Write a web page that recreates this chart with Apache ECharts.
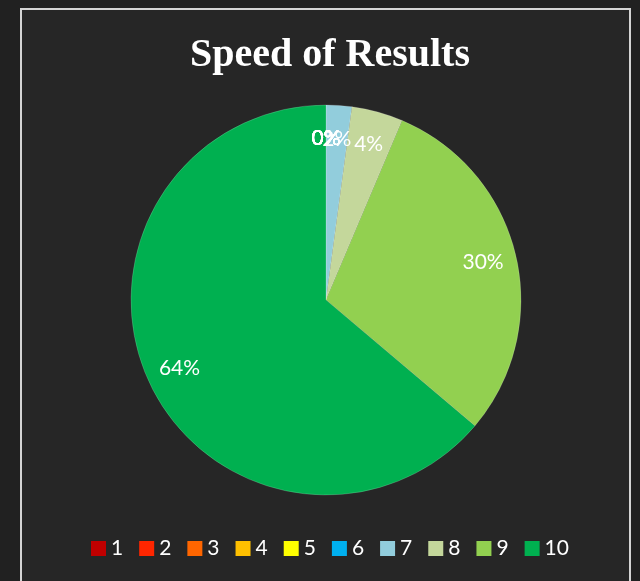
<!DOCTYPE html>
<html>
<head>
<meta charset="utf-8">
<script src="https://cdn.jsdelivr.net/npm/echarts@6/dist/echarts.min.js"></script>
<style>
  html, body { margin: 0; padding: 0; background: #212121; }
  #frame {
    position: absolute; left: 20px; top: 8px;
    width: 607px; height: 600px;
    border: 2px solid #d4d4d4; background: #262626;
  }
  #chart { width: 607px; height: 600px; }
</style>
</head>
<body>
<div id="frame"><div id="chart"></div></div>
<script>
// ratings 1..10 and how many responses fell in each
const categories = ["1", "2", "3", "4", "5", "6", "7", "8", "9", "10"];
const counts = [0, 0, 0, 0, 0, 0, 1, 2, 14, 30];
const colors = ["#C00000", "#FF2600", "#FF6600", "#FFC000", "#FFFF00",
                "#00B0F0", "#92CDDC", "#C4D79B", "#92D050", "#00B050"];

const total = counts.reduce((a, b) => a + b, 0);
const pct = i => Math.round(counts[i] / total * 100) + "%";

const pieData = categories.map((c, i) => ({
  name: c, value: counts[i], itemStyle: { color: colors[i] }
}));

const chart = echarts.init(document.getElementById("chart"));
chart.setOption({
  backgroundColor: "transparent",
  animation: false,
  title: {
    text: "Speed of Results",
    left: 303, top: 21, textAlign: "center",
    textStyle: {
      color: "#ffffff", fontFamily: "Liberation Serif",
      fontWeight: "bold", fontSize: 40
    }
  },
  legend: {
    data: categories,
    top: 528, left: 69, padding: 0,
    itemWidth: 15, itemHeight: 15, itemGap: 16,
    icon: "rect",
    itemStyle: { borderWidth: 0 },
    textStyle: { color: "#ffffff", fontFamily: "Lato", fontSize: 21 }
  },
  series: [
    {
      type: "pie",
      center: [304, 290],
      radius: 195,
      startAngle: 90,
      data: pieData,
      label: { show: false },
      labelLine: { show: false },
      itemStyle: { borderColor: "rgba(255,255,255,0.35)", borderWidth: 0.5 }
    },
    {
      // label ring, only carries the percentage text
      type: "pie",
      center: [304, 290],
      radius: [122, 195],
      startAngle: 90,
      silent: true,
      legendHoverLink: false,
      avoidLabelOverlap: false,
      minShowLabelAngle: 0,
      data: categories.map((c, i) => ({ name: c, value: counts[i] })),
      itemStyle: { color: "transparent", borderWidth: 0 },
      label: {
        show: true, position: "inside",
        color: "#ffffff", fontFamily: "Lato", fontSize: 21,
        formatter: p => pct(p.dataIndex)
      },
      labelLayout: { hideOverlap: false },
      labelLine: { show: false }
    }
  ]
});
</script>
</body>
</html>
